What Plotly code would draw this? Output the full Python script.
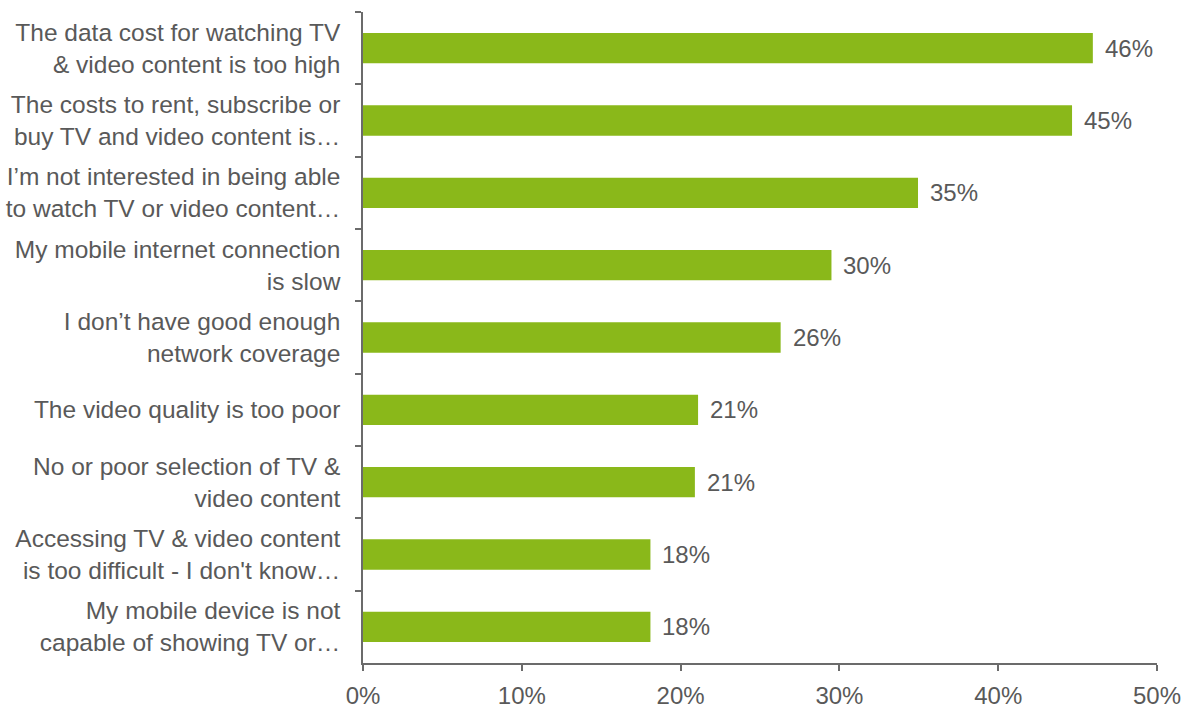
import plotly.graph_objects as go

categories = [
    "The data cost for watching TV<br>& video content is too high",
    "The costs to rent, subscribe or<br>buy TV and video content is…",
    "I’m not interested in being able<br>to watch TV or video content…",
    "My mobile internet connection<br>is slow",
    "I don’t have good enough<br>network coverage",
    "The video quality is too poor",
    "No or poor selection of TV &<br>video content",
    "Accessing TV & video content<br>is too difficult - I don't know…",
    "My mobile device is not<br>capable of showing TV or…",
]
values = [45.96, 44.65, 34.95, 29.5, 26.3, 21.1, 20.9, 18.1, 18.1]
value_labels = ["46%", "45%", "35%", "30%", "26%", "21%", "21%", "18%", "18%"]

bar_color = "#8AB81A"
text_color = "#595959"
axis_color = "#6b6b6b"
font_family = "Liberation Sans, Arial, sans-serif"

fig = go.Figure()
fig.add_trace(go.Bar(
    x=values,
    y=categories,
    orientation="h",
    marker=dict(color=bar_color, line=dict(width=0)),
    hoverinfo="skip",
))

for v, c, lab in zip(values, categories, value_labels):
    fig.add_annotation(
        x=v, y=c, text=lab, showarrow=False,
        xanchor="left", xshift=10, yshift=0,
        font=dict(size=24, color=text_color, family=font_family),
    )

fig.update_layout(
    width=1189, height=708,
    margin=dict(l=363, r=32, t=12, b=45),
    plot_bgcolor="white", paper_bgcolor="white",
    bargap=0.58,
    showlegend=False,
    font=dict(family=font_family, color=text_color),
)
fig.update_xaxes(
    range=[0, 50], dtick=10, ticksuffix="%",
    automargin=False,
    showgrid=False, zeroline=False,
    showline=True, linecolor=axis_color, linewidth=1.5,
    ticks="outside", ticklen=6, tickcolor=axis_color, tickwidth=1.5,
    ticklabelstandoff=4,
    tickfont=dict(size=24, color=text_color, family=font_family),
)
fig.update_yaxes(
    autorange="reversed",
    automargin=False,
    showgrid=False, zeroline=False,
    showline=True, linecolor=axis_color, linewidth=1.5,
    ticks="outside", ticklen=6, tickcolor=axis_color, tickwidth=1.5,
    tickson="boundaries",
    ticklabelstandoff=16,
    tickfont=dict(size=24.5, color=text_color, family=font_family),
)

fig.write_html("out.html")
